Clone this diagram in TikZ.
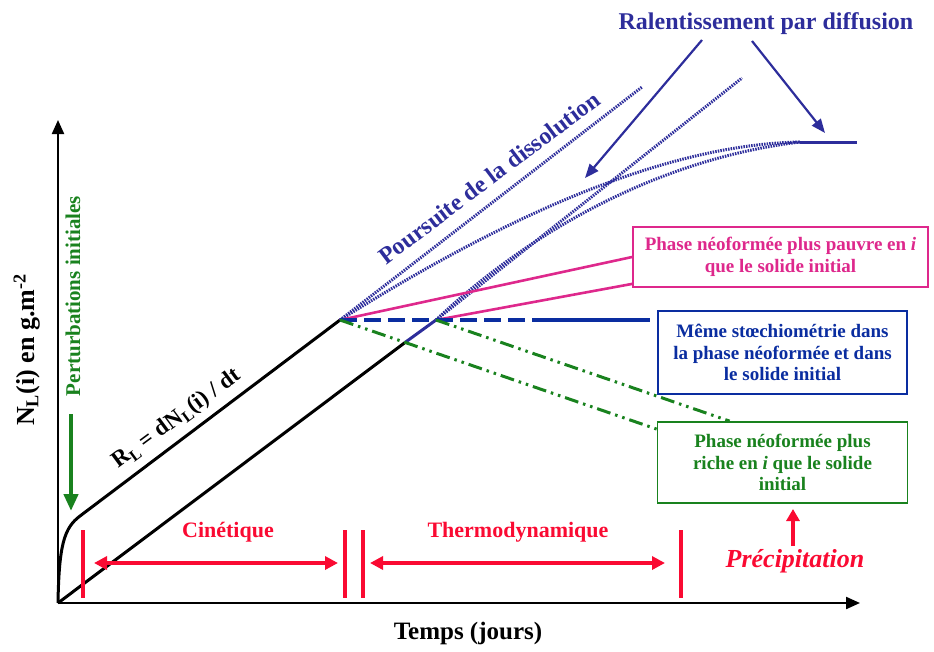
\documentclass[tikz,border=0pt]{standalone}
\usepackage{fontspec}
\setmainfont{Liberation Serif}
\usetikzlibrary{arrows.meta,calc}
\definecolor{navyc}{RGB}{45,45,155}
\definecolor{dbluec}{RGB}{10,45,160}
\definecolor{pinkc}{RGB}{222,40,140}
\definecolor{greenc}{RGB}{25,130,30}
\definecolor{redc}{RGB}{250,10,50}
\newcommand\fsz[2]{\fontsize{#1}{#2}\selectfont\bfseries}
\begin{document}
\begin{tikzpicture}[x=1pt,y=-1pt,
  axisline/.style={black,line width=2.2pt},
  blackline/.style={black,line width=3pt},
  navdot/.style={navyc,line width=3pt,dash pattern=on 1.5pt off 1.1pt},
  navsolid/.style={navyc,line width=3pt},
  pinkline/.style={pinkc,line width=2.6pt},
  bluedash/.style={dbluec,line width=3.4pt},
  greendd/.style={greenc,line width=3pt,dash pattern=on 14pt off 5pt on 2.5pt off 5pt on 2.5pt off 5pt},
  redbar/.style={redc,line width=4pt},
  redarrow/.style={redc,line width=3.4pt,{Triangle[length=13pt,width=13pt]}-{Triangle[length=13pt,width=13pt]}},
  infobox/.style={draw,line width=1.8pt,fill=white,align=center,inner sep=2pt,font=\fsz{19}{21.5}},
  lbl/.style={inner sep=0pt,align=center}]
\useasboundingbox (0,0) rectangle (934,651);

% key points
\coordinate (O) at (58,603);
\coordinate (ytop) at (58,120);
\coordinate (xend) at (860,603);
\coordinate (knee) at (80,516);
\coordinate (P1) at (340,320);
\coordinate (P2) at (436,320);
\coordinate (L2b) at (405,342.5);
\coordinate (dA) at (642,87);
\coordinate (dB) at (742,78);
\coordinate (plat) at (800,142);
\coordinate (platend) at (857,142);
\coordinate (dashend) at (535,320);
\coordinate (bh) at (650,320);

% boxes
\node[infobox,draw=pinkc,text=pinkc,minimum width=295pt,minimum height=60pt] (pink) at (780.5,257)
  {Phase néoformée plus pauvre en \textit{i}\\que le solide initial};
\node[infobox,draw=dbluec,text=dbluec,minimum width=249pt,minimum height=83pt] (blue) at (782.5,352.5)
  {Même stœchiométrie dans\\la phase néoformée et dans\\le solide initial};
\node[infobox,draw=greenc,text=greenc,minimum width=250pt,minimum height=81pt] (green) at (782.5,462.5)
  {Phase néoformée plus\\riche en \textit{i} que le solide\\initial};

\coordinate (pk2) at ([yshift=4pt]pink.south west);
\coordinate (gr1) at ([yshift=-8pt]green.north west);
\coordinate (gr2) at ([xshift=73pt]green.north west);

% axes
\draw[axisline,-{Triangle[length=14pt,width=12pt]}] (O) -- (ytop);
\draw[axisline,-{Triangle[length=14pt,width=12pt]}] (O) -- (xend);

% black curves
\draw[blackline] (O) .. controls (59,545) and (64,528) .. (knee) -- (P1);
\draw[blackline] (O) -- (L2b);
\draw[navsolid] (L2b) -- (P2);

% dissolution lines
\draw[navdot] (P1) -- (dA);
\draw[navdot] (P2) -- (dB);
\draw[navdot] (P1) .. controls (460,245) and (640,145) .. (plat);
\draw[navdot] (P2) .. controls (520,240) and (650,160) .. (plat);
\draw[navsolid] (plat) -- (platend);

% pink lines
\draw[pinkline] (P1) -- (pink.west);
\draw[pinkline] (P2) -- (pk2);

% blue dashed
\draw[bluedash,dash pattern=on 17pt off 7pt] (P1) -- (dashend);
\draw[bluedash] (dashend) -- (bh);

% green dash-dot
\draw[greendd] (P1) -- (gr1);
\draw[greendd] (P2) -- (gr2);

% Ralentissement
\node[lbl,text=navyc,font=\fsz{24}{26}] (ral) at (766,24) {Ralentissement par diffusion};
\coordinate (r1) at (702,40);
\coordinate (r2) at (752,41);
\coordinate (t1) at (585,178);
\coordinate (t2) at (825,133);
\draw[navyc,line width=2.2pt,-{Triangle[length=14pt,width=11pt]}] (r1) -- (t1);
\draw[navyc,line width=2.2pt,-{Triangle[length=14pt,width=11pt]}] (r2) -- (t2);

% Poursuite
\node[lbl,text=navyc,font=\fsz{24}{26},rotate=37] (pours) at (489,178) {Poursuite de la dissolution};

% RL label
\node[lbl,font=\fsz{23}{25},rotate=36.5] (rl) at (177,419) {R\textsubscript{L} = dN\textsubscript{L}(i) / dt};

% y label
\node[lbl,font=\fsz{26}{28},rotate=90] (ylab) at (27,350) {N\textsubscript{L}(i) en g.m\textsuperscript{-2}};

% perturbations
\node[lbl,text=greenc,font=\fsz{21}{23},rotate=90] (pert) at (73,296) {Perturbations initiales};
\coordinate (g1) at (71,414);
\coordinate (g2) at (71,511);
\draw[greenc,line width=4.4pt,-{Triangle[length=17pt,width=14pt]}] (g1) -- (g2);

% red bars
\foreach \x/\n in {83/b1,345/b2,363/b3,681/b4}{
  \coordinate (\n t) at (\x,530);
  \coordinate (\n b) at (\x,598);
  \draw[redbar] (\n t) -- (\n b);
}
\coordinate (a1) at (94,563);
\coordinate (a2) at (338,563);
\coordinate (a3) at (370,563);
\coordinate (a4) at (665,563);
\draw[redarrow] (a1) -- (a2);
\draw[redarrow] (a3) -- (a4);
\node[lbl,text=redc,font=\fsz{22}{24}] (cin) at (228,532) {Cinétique};
\node[lbl,text=redc,font=\fsz{22}{24}] (thermo) at (518,532) {Thermodynamique};

% precipitation
\node[lbl,text=redc,font=\fsz{26}{28}\itshape] (prec) at (795,561) {Précipitation};
\coordinate (pu1) at (793,546);
\coordinate (pu2) at (793,509);
\draw[redc,line width=3.4pt,-{Triangle[length=12pt,width=13pt]}] (pu1) -- (pu2);

% x label
\node[lbl,font=\fsz{25}{27}] (xlab) at (468,633) {Temps (jours)};
\end{tikzpicture}
\end{document}
